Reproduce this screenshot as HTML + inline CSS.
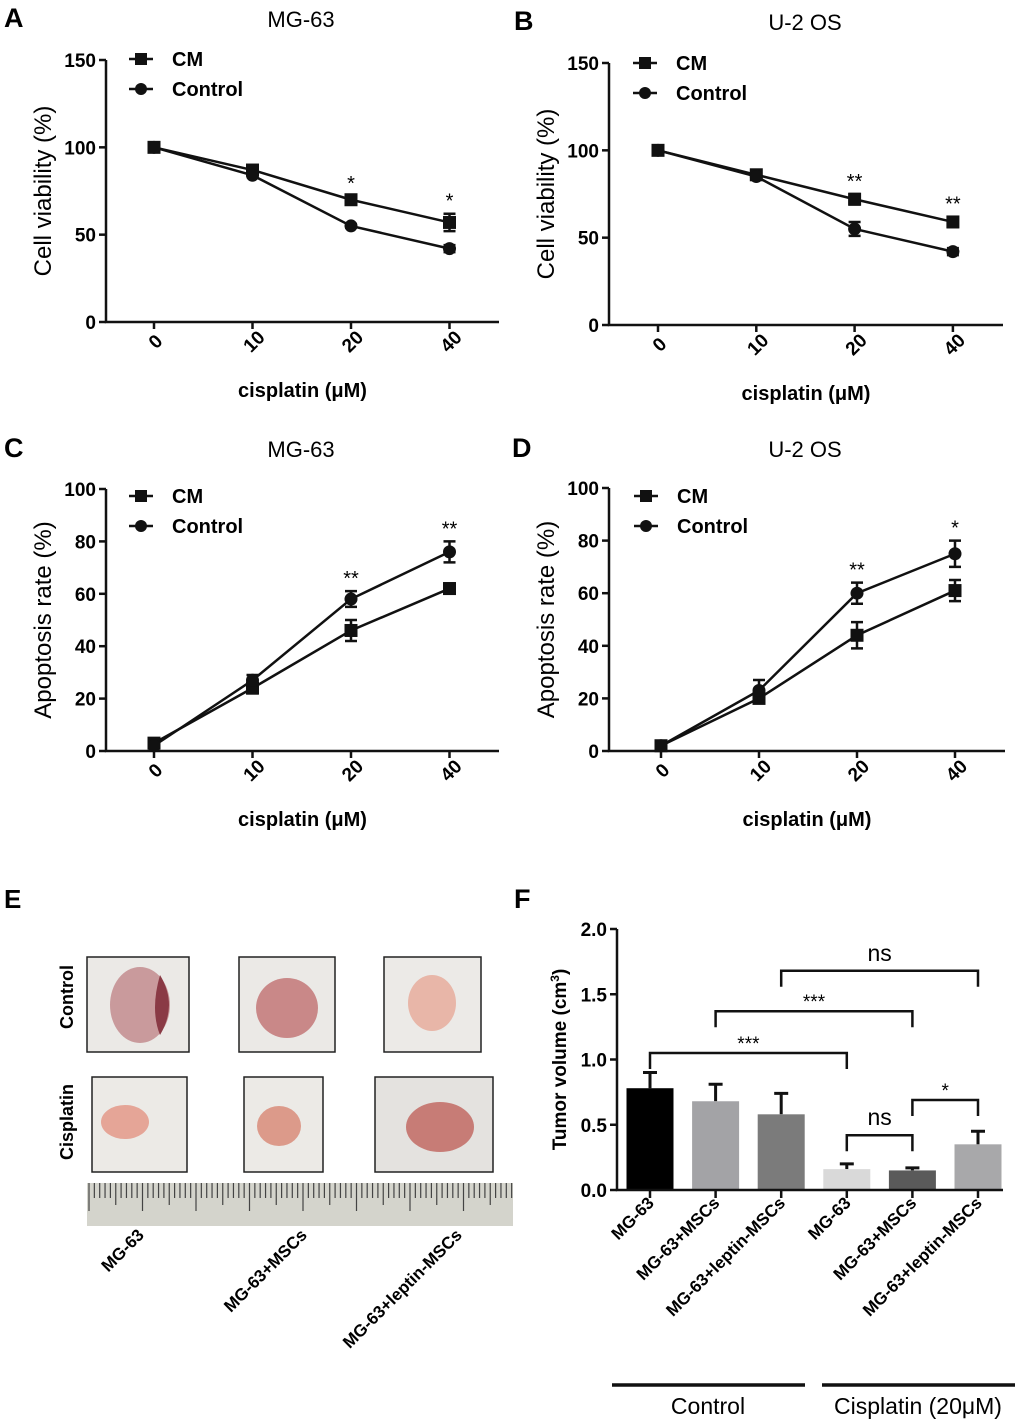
<!DOCTYPE html>
<html><head><meta charset="utf-8"><style>
html,body{margin:0;padding:0;background:#fff;}
svg{display:block;font-family:"Liberation Sans",Arial,sans-serif;}
</style></head><body>
<svg id="fig" width="1020" height="1426" viewBox="0 0 1020 1426" xmlns="http://www.w3.org/2000/svg">
<g id="photos">
  <text x="4" y="908" font-size="26" font-weight="bold">E</text>
  <text transform="translate(73,997) rotate(-90)" text-anchor="middle" font-size="18" font-weight="bold">Control</text>
  <text transform="translate(73,1122) rotate(-90)" text-anchor="middle" font-size="18" font-weight="bold">Cisplatin</text>
  <g><rect x="87" y="957" width="102" height="95" fill="#ebe9e6" stroke="#222" stroke-width="1.5"/><ellipse cx="140" cy="1005" rx="30" ry="38" fill="#c99a9c"/><path d="M160 975 Q178 1005 160 1035 Q150 1010 160 975Z" fill="#8a3a45"/></g>
  <g><rect x="239" y="957" width="96" height="95" fill="#ebe9e6" stroke="#222" stroke-width="1.5"/><ellipse cx="287" cy="1008" rx="31" ry="30" fill="#c98888"/></g>
  <g><rect x="384" y="957" width="97" height="95" fill="#eceae7" stroke="#222" stroke-width="1.5"/><ellipse cx="432" cy="1003" rx="24" ry="28" fill="#e8b6a8"/></g>
  <g><rect x="92" y="1077" width="95" height="95" fill="#eceae6" stroke="#222" stroke-width="1.5"/><ellipse cx="125" cy="1122" rx="24" ry="17" fill="#e5a597"/></g>
  <g><rect x="244" y="1077" width="79" height="95" fill="#eceae6" stroke="#222" stroke-width="1.5"/><ellipse cx="279" cy="1126" rx="22" ry="20" fill="#dc9a8a"/></g>
  <g><rect x="375" y="1077" width="118" height="95" fill="#e4e2df" stroke="#222" stroke-width="1.5"/><ellipse cx="440" cy="1127" rx="34" ry="25" fill="#c77c76"/></g>
  <g><rect x="87" y="1183" width="426" height="43" fill="#d4d4cc"/><g id="rticks" stroke="#444" stroke-width="1.2"></g></g>
  <text transform="translate(145,1236) rotate(-45)" text-anchor="end" font-size="17" font-weight="bold">MG-63</text>
  <text transform="translate(308,1236) rotate(-45)" text-anchor="end" font-size="17" font-weight="bold">MG-63+MSCs</text>
  <text transform="translate(463,1236) rotate(-45)" text-anchor="end" font-size="17" font-weight="bold">MG-63+leptin-MSCs</text>
</g>
</svg>
<script>
const NS="http://www.w3.org/2000/svg";
const svg=document.getElementById('fig');
function mk(tag,attrs,parent,text){const e=document.createElementNS(NS,tag);for(const k in attrs)e.setAttribute(k,attrs[k]);if(text!==undefined)e.textContent=text;(parent||svg).appendChild(e);return e;}

const rt=document.getElementById('rticks');
for(let i=0;i<80;i++){const x=89+i*5.35;const l=mk('line',{x1:x,y1:1183,x2:x,y2:1183+(i%10===0?28:(i%5===0?22:15))},rt);

}

const doseLabels=["0","10","20","40"];
const aCM=[100,87,70,57], aCMerr=[1,2,2,5];
const aCtl=[100,84,55,42], aCtlerr=[1,1,1,2];
const aStars=["","","*","*"];
const bCM=[100,86,72,59], bCMerr=[1,1,3,3];
const bCtl=[100,85,55,42], bCtlerr=[1,1,4,2];
const bStars=["","","**","**"];
const cCM=[3,24,46,62], cCMerr=[1,2,4,2];
const cCtl=[2,27,58,76], cCtlerr=[1,2,3,4];
const cStars=["","","**","**"];
const dCM=[2,20,44,61], dCMerr=[1,1,5,4];
const dCtl=[2,23,60,75], dCtlerr=[1,4,4,5];
const dStars=["","","**","*"];
const vTicks=[0,50,100,150];
const apTicks=[0,20,40,60,80,100];

function lineChart(o){
  const g=mk('g',{});
  
  
  const y=v=>o.y0-(v-o.ymin)/(o.ymax-o.ymin)*(o.y0-o.y1);
  const x=i=>o.xs[0]+i*(o.xs[1]-o.xs[0]);
  let t=mk('text',{x:o.lx,y:o.ly,'font-size':27,'font-weight':'bold'},g,o.letter);
  
  
  t=mk('text',{x:o.tx,y:o.ty,'font-size':22,'text-anchor':'middle'},g,o.title);
  
  
  let ax=mk('path',{d:`M${o.ax} ${y(o.ymax)}V${o.y0}H${o.xend}`,stroke:'#111','stroke-width':2.5,fill:'none'},g);
  
  
  o.ticks.forEach(v=>{
    const l=mk('line',{x1:o.ax-7,x2:o.ax,y1:y(v),y2:y(v),stroke:'#111','stroke-width':2.5},g);
    
    
    const tl=mk('text',{x:o.ax-10,y:y(v)+7,'font-size':19,'font-weight':'bold','text-anchor':'end'},g,v);
    
    
  });
  doseLabels.forEach((d,i)=>{
    const l=mk('line',{x1:x(i),x2:x(i),y1:o.y0,y2:o.y0+7,stroke:'#111','stroke-width':2.5},g);
    
    
    const tl=mk('text',{transform:`translate(${x(i)+6},${o.y0+24}) rotate(-45)`,'font-size':19,'font-weight':'bold','text-anchor':'middle'},g,d);
    
    
  });
  t=mk('text',{transform:`translate(${o.ax-55},${(o.y0+y(o.ymax))/2}) rotate(-90)`,'font-size':24,'text-anchor':'middle'},g,o.ytitle);
  
  
  t=mk('text',{x:(o.ax+o.xend)/2,y:o.y0+75,'font-size':20,'font-weight':'bold','text-anchor':'middle'},g,'cisplatin (\u03bcM)');
  
  
  const series=[[o.cm,o.cmerr,'sq','CM'],[o.ctl,o.ctlerr,'ci','Control']];
  series.forEach(([vals,errs,shape,lab],si)=>{
    const pts=vals.map((v,i)=>`${x(i)},${y(v)}`).join(' ');
    const pl=mk('polyline',{points:pts,fill:'none',stroke:'#111','stroke-width':2.5},g);
    
    
    vals.forEach((v,i)=>{
      const e=errs[i];
      const eb=mk('path',{d:`M${x(i)} ${y(v+e)}V${y(v-e)}M${x(i)-6} ${y(v+e)}H${x(i)+6}M${x(i)-6} ${y(v-e)}H${x(i)+6}`,stroke:'#111','stroke-width':2.5,fill:'none'},g);
      
      
      const m=shape==='sq'?mk('rect',{x:x(i)-6.5,y:y(v)-6.5,width:13,height:13,fill:'#111'},g):mk('circle',{cx:x(i),cy:y(v),r:6.5,fill:'#111'},g);
      
      
    });
    const ly=o.legY+si*30;
    const ll=mk('line',{x1:o.legX,x2:o.legX+24,y1:ly,y2:ly,stroke:'#111','stroke-width':2.5},g);
    
    
    const lm=shape==='sq'?mk('rect',{x:o.legX+6,y:ly-6,width:12,height:12,fill:'#111'},g):mk('circle',{cx:o.legX+12,cy:ly,r:6,fill:'#111'},g);
    
    
    const lt=mk('text',{x:o.legX+43,y:ly+7,'font-size':20,'font-weight':'bold'},g,lab);
    
    
  });
  o.stars.forEach((s,i)=>{
    if(!s)return;
    const top=Math.max(o.cm[i]+o.cmerr[i],o.ctl[i]+o.ctlerr[i]);
    const st=mk('text',{x:x(i),y:y(top)-6,'font-size':20,'text-anchor':'middle'},g,s);
    
    
  });
}
lineChart({name:'chart-a',letter:'A',lx:4,ly:27,title:'MG-63',tx:301,ty:27,ax:106,xend:499,y0:322,y1:60,ymin:0,ymax:150,xs:[154,252.5],ticks:vTicks,ytitle:'Cell viability (%)',cm:aCM,cmerr:aCMerr,ctl:aCtl,ctlerr:aCtlerr,stars:aStars,legX:129,legY:59});
lineChart({name:'chart-b',letter:'B',lx:514,ly:30,title:'U-2 OS',tx:805,ty:30,ax:609,xend:1003,y0:325,y1:63,ymin:0,ymax:150,xs:[658,756.3],ticks:vTicks,ytitle:'Cell viability (%)',cm:bCM,cmerr:bCMerr,ctl:bCtl,ctlerr:bCtlerr,stars:bStars,legX:633,legY:63});
lineChart({name:'chart-c',letter:'C',lx:4,ly:457,title:'MG-63',tx:301,ty:457,ax:106,xend:499,y0:751,y1:489,ymin:0,ymax:100,xs:[154,252.5],ticks:apTicks,ytitle:'Apoptosis rate (%)',cm:cCM,cmerr:cCMerr,ctl:cCtl,ctlerr:cCtlerr,stars:cStars,legX:129,legY:496});
lineChart({name:'chart-d',letter:'D',lx:512,ly:457,title:'U-2 OS',tx:805,ty:457,ax:609,xend:1005,y0:751,y1:488,ymin:0,ymax:100,xs:[661,759],ticks:apTicks,ytitle:'Apoptosis rate (%)',cm:dCM,cmerr:dCMerr,ctl:dCtl,ctlerr:dCtlerr,stars:dStars,legX:634,legY:496});

const fCats=["MG-63","MG-63+MSCs","MG-63+leptin-MSCs","MG-63","MG-63+MSCs","MG-63+leptin-MSCs"];
const fVals=[0.78,0.68,0.58,0.16,0.15,0.35];
const fErr=[0.12,0.13,0.16,0.04,0.02,0.10];
const fColors=["#000000","#a3a3a6","#7b7b7b","#d9d9d9","#5a5a5a","#a8a8aa"];
const fTicks=[0,0.5,1.0,1.5,2.0];
const fBrackets=[[0,3,1.05,"***"],[1,4,1.37,"***"],[2,5,1.68,"ns"],[3,4,0.42,"ns"],[4,5,0.69,"*"]];
(function(){
  const g=mk('g',{});
  
  
  const ax=617,y0=1190,y1=929,xend=1003;
  const y=v=>y0-v/2*(y0-y1);
  const x=i=>650+i*65.6;
  let t=mk('text',{x:514,y:908,'font-size':27,'font-weight':'bold'},g,'F');
  
  
  fVals.forEach((v,i)=>{
    const e=mk('path',{d:`M${x(i)} ${y(v)}V${y(v+fErr[i])}M${x(i)-7} ${y(v+fErr[i])}H${x(i)+7}`,stroke:'#111','stroke-width':3,fill:'none'},g);
    
    
    const b=mk('rect',{x:x(i)-23.5,y:y(v),width:47,height:y0-y(v),fill:fColors[i]},g);
    
    
    const tk=mk('line',{x1:x(i),x2:x(i),y1:y0,y2:y0+8,stroke:'#111','stroke-width':2.5},g);
    
    
    const tl=mk('text',{transform:`translate(${x(i)+5},${y0+14}) rotate(-45)`,'font-size':17,'font-weight':'bold','text-anchor':'end'},g,fCats[i]);
    
    
  });
  let a=mk('path',{d:`M${ax} ${y1}V${y0}H${xend}`,stroke:'#111','stroke-width':2.5,fill:'none'},g);
  
  
  fTicks.forEach(v=>{
    const l=mk('line',{x1:ax-7,x2:ax,y1:y(v),y2:y(v),stroke:'#111','stroke-width':2.5},g);
    
    
    const tl=mk('text',{x:ax-10,y:y(v)+7,'font-size':19,'font-weight':'bold','text-anchor':'end'},g,v.toFixed(1));
    
    
  });
  t=mk('text',{transform:`translate(566,${(y0+y1)/2}) rotate(-90)`,'font-size':19,'font-weight':'bold','text-anchor':'middle'},g);
  t.innerHTML='Tumor volume (cm<tspan dy="-7" font-size="12">3</tspan><tspan dy="7">)</tspan>';
  
  
  fBrackets.forEach(([a1,b1,h,lab])=>{
    const p=mk('path',{d:`M${x(a1)} ${y(h)+16}V${y(h)}H${x(b1)}V${y(h)+16}`,stroke:'#111','stroke-width':2.5,fill:'none'},g);
    
    
    const s=mk('text',{x:(x(a1)+x(b1))/2,y:lab==='ns'?y(h)-10:y(h)-3,'font-size':lab==='ns'?23:19,'text-anchor':'middle'},g,lab);
    
    
  });
  [[612,805,'Control',708],[822,1015,'Cisplatin (20\u03bcM)',918]].forEach(([x1,x2,lab,cx])=>{
    const l=mk('line',{x1:x1,x2:x2,y1:1385,y2:1385,stroke:'#111','stroke-width':3.5},g);
    
    
    const tt=mk('text',{x:cx,y:1414,'font-size':23,'text-anchor':'middle'},g,lab);
    
    
  });
})();
</script>
</body></html>
